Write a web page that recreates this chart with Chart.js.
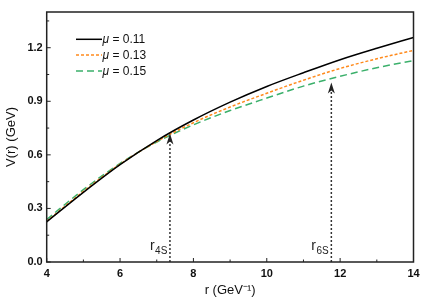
<!DOCTYPE html>
<html>
<head>
<meta charset="utf-8">
<script src="https://cdn.jsdelivr.net/npm/chart.js@4.4.0/dist/chart.umd.min.js"></script>
<style>
    html, body { margin: 0; padding: 0; background: #fff; }
    #wrap { width: 435px; height: 302px; position: relative; }
</style>
</head>
<body>
<div id="wrap"><canvas id="chart"></canvas></div>
<script>
// Data
const rValues = [4, 5, 6, 7, 8, 9, 10, 11, 12, 13, 14];
const mu011 = [0.225, 0.390, 0.545, 0.680, 0.795, 0.895, 0.983, 1.060, 1.133, 1.197, 1.257];
const mu013 = [0.228, 0.395, 0.548, 0.675, 0.780, 0.868, 0.945, 1.018, 1.084, 1.138, 1.185];
const mu015 = [0.238, 0.405, 0.552, 0.672, 0.768, 0.848, 0.918, 0.985, 1.040, 1.088, 1.128];
const muLabels = ['0.11', '0.13', '0.15'];

// Arrows marking the states
const stateNames = ['4S', '6S'];
const stateRadii = [7.36, 11.76];
const arrowTips = [0.72, 1.005];

const xTicks = [4, 6, 8, 10, 12, 14];
const xMinor = [5, 7, 9, 11, 13];
const yTicks = [0, 0.3, 0.6, 0.9, 1.2];
const yMinor = [0.15, 0.45, 0.75, 1.05, 1.35];

const FONT = '"Liberation Sans", Arial, sans-serif';

function toPoints(ys) {
    return rValues.map((r, i) => ({ x: r, y: ys[i] }));
}

const curveStyles = [
    { color: '#000000', dash: [] },
    { color: '#ff8a1c', dash: [3, 2] },
    { color: '#3bb06b', dash: [7, 4] }
];

const curveDatasets = [mu011, mu013, mu015].map((ys, i) => ({
    label: 'mu = ' + muLabels[i],
    data: toPoints(ys),
    borderColor: curveStyles[i].color,
    borderDash: curveStyles[i].dash,
    borderWidth: 1.5,
    pointRadius: 0,
    cubicInterpolationMode: 'monotone',
    isCurve: true
}));

const arrowDatasets = stateRadii.map((r, i) => ({
    label: 'r' + stateNames[i],
    data: [{ x: r, y: 0 }, { x: r, y: arrowTips[i] - 0.03 }],
    borderColor: '#333333',
    borderDash: [2, 2],
    borderWidth: 1.5,
    pointRadius: 0,
    isArrow: true,
    stateIndex: i
}));

/**
 * Frame, inward ticks, arrowheads, state labels and legend
 */
const decorPlugin = {
    id: 'decor',
    afterDatasetsDraw(chart) {
        const ctx = chart.ctx;
        const area = chart.chartArea;
        const xs = chart.scales.x;
        const ys = chart.scales.y;
        ctx.save();

        // Frame
        ctx.strokeStyle = '#222';
        ctx.lineWidth = 1.5;
        ctx.setLineDash([]);
        ctx.strokeRect(area.left, area.top, area.right - area.left, area.bottom - area.top);

        // Ticks pointing inward (bottom and left only)
        ctx.lineWidth = 1;
        ctx.beginPath();
        xTicks.forEach(v => {
            const px = xs.getPixelForValue(v);
            ctx.moveTo(px, area.bottom);
            ctx.lineTo(px, area.bottom - 4);
        });
        xMinor.forEach(v => {
            const px = xs.getPixelForValue(v);
            ctx.moveTo(px, area.bottom);
            ctx.lineTo(px, area.bottom - 2.5);
        });
        yTicks.forEach(v => {
            const py = ys.getPixelForValue(v);
            ctx.moveTo(area.left, py);
            ctx.lineTo(area.left + 4, py);
        });
        yMinor.forEach(v => {
            const py = ys.getPixelForValue(v);
            ctx.moveTo(area.left, py);
            ctx.lineTo(area.left + 2.5, py);
        });
        ctx.stroke();

        // Arrowheads and state labels
        chart.data.datasets.forEach(ds => {
            if (!ds.isArrow) return;
            const i = ds.stateIndex;
            const px = xs.getPixelForValue(stateRadii[i]);
            const tip = ys.getPixelForValue(arrowTips[i]);
            ctx.fillStyle = '#222';
            ctx.beginPath();
            ctx.moveTo(px, tip);
            ctx.lineTo(px - 3.5, tip + 11);
            ctx.lineTo(px, tip + 8);
            ctx.lineTo(px + 3.5, tip + 11);
            ctx.closePath();
            ctx.fill();

            const base = ys.getPixelForValue(0) - 12;
            ctx.fillStyle = '#222';
            ctx.textBaseline = 'alphabetic';
            ctx.textAlign = 'left';
            ctx.font = '14px ' + FONT;
            const lx = px - 20;
            ctx.fillText('r', lx, base);
            const rw = ctx.measureText('r').width;
            ctx.font = '10px ' + FONT;
            ctx.fillText(stateNames[i], lx + rw + 0.5, base + 4);
        });

        // Legend
        const rows = [39.3, 55, 71];
        curveDatasets.forEach((ds, i) => {
            const y = rows[i];
            ctx.strokeStyle = ds.borderColor;
            ctx.lineWidth = 1.5;
            ctx.setLineDash(ds.borderDash);
            ctx.beginPath();
            ctx.moveTo(76, y);
            ctx.lineTo(102, y);
            ctx.stroke();
            ctx.setLineDash([]);

            ctx.fillStyle = '#111';
            ctx.textBaseline = 'middle';
            ctx.textAlign = 'left';
            ctx.font = 'italic 12px ' + FONT;
            ctx.fillText('\u03bc', 102.5, y + 0.5);
            const mw = ctx.measureText('\u03bc').width;
            ctx.font = '12px ' + FONT;
            ctx.fillText(' = ' + muLabels[i], 102.5 + mw, y + 0.5);
        });

        ctx.restore();
    }
};

const ctx = document.getElementById('chart').getContext('2d');
const chart = new Chart(ctx, {
    type: 'line',
    data: {
        datasets: [...curveDatasets, ...arrowDatasets]
    },
    options: {
        responsive: true,
        maintainAspectRatio: false,
        animation: false,
        layout: {
            padding: { top: 12, right: 21.5, left: 0, bottom: 0 }
        },
        plugins: {
            legend: { display: false },
            tooltip: { enabled: false }
        },
        scales: {
            x: {
                type: 'linear',
                min: 4,
                max: 14,
                grid: { display: false, drawTicks: false },
                border: { display: false },
                afterFit: scale => { scale.height = 40; },
                afterBuildTicks: scale => {
                    scale.ticks = xTicks.map(v => ({ value: v }));
                },
                ticks: {
                    padding: 5,
                    color: '#111',
                    maxRotation: 0,
                    font: { family: FONT, size: 11, weight: 'bold' },
                    callback: value => String(value)
                },
                title: {
                    display: true,
                    text: 'r (GeV\u207b\u00b9)',
                    color: '#111',
                    padding: { top: 0, bottom: 4 },
                    font: { family: FONT, size: 13 }
                }
            },
            y: {
                type: 'linear',
                min: 0,
                max: 1.4,
                grid: { display: false, drawTicks: false },
                border: { display: false },
                afterFit: scale => { scale.width = 46.7; },
                afterBuildTicks: scale => {
                    scale.ticks = yTicks.map(v => ({ value: v }));
                },
                ticks: {
                    padding: 4,
                    color: '#111',
                    font: { family: FONT, size: 11, weight: 'bold' },
                    callback: value => value.toFixed(1)
                },
                title: {
                    display: true,
                    text: 'V(r) (GeV)',
                    color: '#111',
                    padding: { top: 4, bottom: 0 },
                    font: { family: FONT, size: 13 }
                }
            }
        }
    },
    plugins: [decorPlugin]
});
</script>
</body>
</html>
